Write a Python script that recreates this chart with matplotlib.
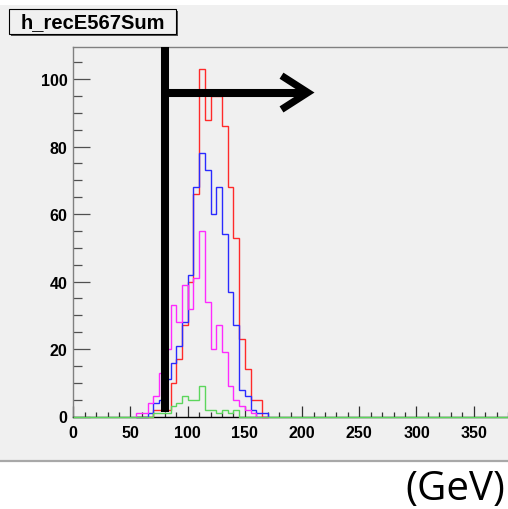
import numpy as np
import matplotlib.pyplot as plt
from matplotlib.patches import Rectangle
from matplotlib.lines import Line2D
from matplotlib.ticker import MultipleLocator

# ── Histogram content: 5 GeV bins, filled from 55 to 170 GeV, empty elsewhere ──
BIN_WIDTH  = 5
FIRST_EDGE = 55
X_RANGE    = (0, 400)
Y_MAX      = 109.5

counts_red     = [0, 0, 0, 2, 2, 2, 10, 17, 27, 40, 66, 103, 88, 95, 95, 86, 68, 53, 23, 14, 5, 5, 0]
counts_blue    = [0, 0, 1, 4, 5, 11, 16, 21, 28, 42, 68, 78, 73, 60, 68, 54, 37, 27, 8, 6, 2, 1, 1]
counts_magenta = [1, 1, 4, 6, 13, 20, 33, 28, 39, 32, 41, 55, 34, 20, 27, 19, 9, 5, 3, 2, 1, 0, 0]
counts_green   = [0, 0, 0, 1, 1, 1, 3, 4, 6, 5, 5, 9, 2, 2, 1, 2, 1, 2, 0, 0, 0, 0, 0]

# drawn in this order; the last one is on top and its empty bins cover the axis
SERIES = [
    (counts_red,     "#ff2a2a"),
    (counts_blue,    "#2a2aff"),
    (counts_magenta, "#ff2aff"),
    (counts_green,   "#5cd65c"),
]

X_TICKS = [0, 50, 100, 150, 200, 250, 300, 350]
Y_TICKS = [0, 20, 40, 60, 80, 100]

HIST_NAME = "h_recE567Sum"
UNIT_TEXT = "(GeV)"

# cut marker: vertical line at the cut, arrow pointing to the kept side
CUT_GEV    = 80
CUT_BOTTOM = 1.4
ARROW_Y    = 96
ARROW_TIP  = 205
HEAD_LEN   = 23
HEAD_HALF  = 5.0

CANVAS_GREY = "#f0f0f0"
W_PX, H_PX  = 508, 510


def binned(counts, full):
    if full:
        edges = np.arange(X_RANGE[0], X_RANGE[1] + BIN_WIDTH, BIN_WIDTH)
        values = np.zeros(len(edges) - 1)
        start = (FIRST_EDGE - X_RANGE[0]) // BIN_WIDTH
        values[start:start + len(counts)] = counts
        return edges, values
    edges = FIRST_EDGE + BIN_WIDTH * np.arange(len(counts) + 1)
    return edges, np.asarray(counts, dtype=float)


def fig_box(x0, y0, x1, y1):
    # pixel box (top-left origin) -> figure fraction rectangle
    return x0 / W_PX, 1 - y1 / H_PX, (x1 - x0) / W_PX, (y1 - y0) / H_PX


fig = plt.figure(figsize=(W_PX / 100, H_PX / 100), dpi=100)
fig.patch.set_facecolor("white")

# ROOT-style grey canvas
x, y, w, h = fig_box(0, 6, W_PX, 462)
fig.patches.append(Rectangle((x, y), w, h, transform=fig.transFigure,
                             facecolor=CANVAS_GREY, edgecolor="none", zorder=-5))
fig.add_artist(Line2D([0, 1], [y, y], transform=fig.transFigure,
                      color="#a8a8a8", lw=1.6, zorder=-4))

# ── Histogram frame ──
x, y, w, h = fig_box(73.3, 48, 73.3 + 1.144 * 400, 417.5)
ax = fig.add_axes([x, y, w, h])
ax.set_facecolor(CANVAS_GREY)

for i, (counts, color) in enumerate(SERIES):
    edges, values = binned(counts, full=(i == len(SERIES) - 1))
    ax.stairs(values, edges, color=color, lw=1.0, zorder=3, clip_on=False)

ax.set_xlim(*X_RANGE)
ax.set_ylim(0, Y_MAX)
ax.set_xticks(X_TICKS)
ax.set_yticks(Y_TICKS)
ax.xaxis.set_minor_locator(MultipleLocator(10))
ax.yaxis.set_minor_locator(MultipleLocator(5))

ax.tick_params(axis="x", which="major", direction="in", length=8, width=0.9,
               color="#303030", pad=6, top=False)
ax.tick_params(axis="x", which="minor", direction="in", length=3.8, width=0.9,
               color="#303030", top=False)
ax.tick_params(axis="y", which="major", direction="in", length=12.5, width=0.9,
               color="#505050", pad=4, right=False)
ax.tick_params(axis="y", which="minor", direction="in", length=6.3, width=0.9,
               color="#505050", right=False)

for lab in ax.get_xticklabels() + ax.get_yticklabels():
    lab.set_fontfamily("Liberation Sans")
    lab.set_fontweight("bold")
    lab.set_fontsize(11.5)

for side in ("left", "top", "right"):
    ax.spines[side].set_color("#808080")
    ax.spines[side].set_linewidth(1.0)
ax.spines["bottom"].set_color("black")
ax.spines["bottom"].set_linewidth(1.0)

# ── Cut marker ──
bar = dict(color="black", lw=5.8, solid_capstyle="butt", zorder=5, clip_on=False)
ax.plot([CUT_GEV, CUT_GEV], [CUT_BOTTOM, Y_MAX], **bar)
ax.plot([CUT_GEV - 2.5, ARROW_TIP - 2], [ARROW_Y, ARROW_Y], **bar)
ax.plot([ARROW_TIP - HEAD_LEN, ARROW_TIP, ARROW_TIP - HEAD_LEN],
        [ARROW_Y + HEAD_HALF, ARROW_Y, ARROW_Y - HEAD_HALF],
        color="black", lw=5.2, solid_joinstyle="miter", solid_capstyle="butt",
        zorder=5)

# ── Histogram name box ──
x, y, w, h = fig_box(11, 12, 178, 37)
fig.patches.append(Rectangle((x, y), w, h, transform=fig.transFigure,
                             facecolor="#505050", edgecolor="none", zorder=1))
x, y, w, h = fig_box(9, 10, 176, 35)
fig.patches.append(Rectangle((x, y), w, h, transform=fig.transFigure,
                             facecolor=CANVAS_GREY, edgecolor="black", lw=0.8,
                             zorder=2))
fig.text(x + w / 2, y + h / 2, HIST_NAME, ha="center", va="center",
         fontfamily="Liberation Sans", fontweight="bold", fontsize=14.5, zorder=3)

# unit label below the canvas
fig.text(405 / W_PX, 1 - 500 / H_PX, UNIT_TEXT, ha="left", va="baseline",
         fontfamily="Open Sans", fontsize=29, color="black")

fig.savefig("out.png", dpi=100)
